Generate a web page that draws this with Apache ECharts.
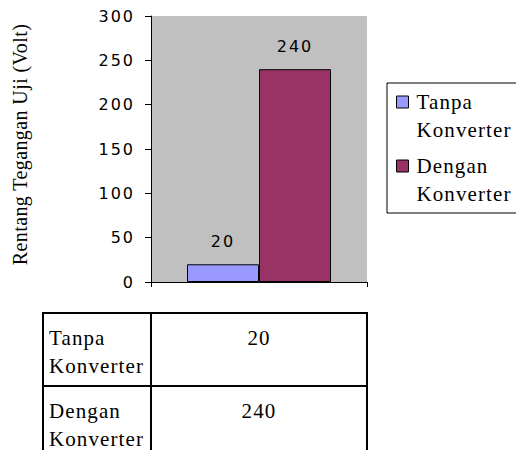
<!DOCTYPE html>
<html><head><meta charset="utf-8">
<script src="https://cdn.jsdelivr.net/npm/echarts@6/dist/echarts.min.js"></script>
<style>
html,body{margin:0;padding:0;background:#fff;}
#chart{width:516px;height:450px;}
#chart text[style*="Serif"][style*="21px"]{letter-spacing:1.1px;}
#chart text[style*="Serif"][style*="20px"]{letter-spacing:0.4px;}
#chart text[style*="DejaVu Sans"]{letter-spacing:2px;}
</style></head>
<body><div id="chart"></div>
<script>
const categories = ['Tanpa Konverter', 'Dengan Konverter'];
const values = [20, 240];
const colors = ['#9999ff', '#993366'];
const yTicks = [0, 50, 100, 150, 200, 250, 300];
const yAxisTitle = 'Rentang Tegangan Uji (Volt)';

const SERIF = "'Liberation Serif', 'Times New Roman', Times, serif";
const SANS = "'DejaVu Sans', sans-serif";
const twoLines = s => s.replace(' ', '\n');
const tableRows = categories.map((c, i) => [i, values[i]]);

const chart = echarts.init(document.getElementById('chart'), null, {renderer: 'svg', width: 516, height: 450});

const barSeries = categories.map((name, i) => ({
  name: name,
  type: 'bar',
  xAxisIndex: 0,
  yAxisIndex: 0,
  data: [values[i]],
  barWidth: 72,
  barGap: '0%',
  itemStyle: {color: colors[i], borderColor: '#000', borderWidth: 1},
  label: {show: true, position: 'top', distance: 15, fontFamily: SANS, fontSize: 16, color: '#000'}
}));

function cellText(text, x, y, align) {
  return {type: 'text', style: {text: text, x: x, y: y, fontFamily: SERIF, fontSize: 21, lineHeight: 21,
    fill: '#000', align: align, verticalAlign: 'middle'}};
}

const tableSeries = {
  type: 'custom',
  xAxisIndex: 1,
  yAxisIndex: 1,
  silent: true,
  clip: false,
  data: tableRows,
  renderItem: function (params, api) {
    const r = api.value(0);
    const v = api.value(1);
    const tl = api.coord([0, r]);
    const mid = api.coord([1, r + 1]);
    const br = api.coord([3, r + 1]);
    const h = br[1] - tl[1];
    const lines = twoLines(categories[params.dataIndex]).split('\n');
    const children = [
      {type: 'rect', shape: {x: tl[0], y: tl[1], width: mid[0] - tl[0], height: h},
        style: {fill: '#fff', stroke: '#000', lineWidth: 2}},
      {type: 'rect', shape: {x: mid[0], y: tl[1], width: br[0] - mid[0], height: h},
        style: {fill: '#fff', stroke: '#000', lineWidth: 2}}
    ];
    lines.forEach((ln, k) => children.push(cellText(ln, tl[0] + 6, tl[1] + 24.5 + 28.5 * k, 'left')));
    children.push(cellText(String(v), (mid[0] + br[0]) / 2, tl[1] + 24.5, 'center'));
    return {type: 'group', children: children};
  }
};

chart.setOption({
  animation: false,
  backgroundColor: '#fff',
  grid: [
    {left: 151, top: 16, width: 216, height: 266, show: true, backgroundColor: '#c0c0c0', borderWidth: 0, outerBoundsMode: 'none'},
    {left: 43, top: 313, width: 324, height: 146, show: false, outerBoundsMode: 'none'}
  ],
  legend: {
    data: categories,
    orient: 'vertical',
    left: 387,
    top: 83,
    padding: [5, 15, 5, 9],
    itemGap: 8,
    itemWidth: 12,
    itemHeight: 40,
    icon: 'path://M0,0L12,0L12,12L0,12Z M0,40',
    itemStyle: {borderColor: '#000', borderWidth: 1},
    backgroundColor: '#fff',
    borderColor: '#000',
    borderWidth: 1,
    borderRadius: 0,
    formatter: twoLines,
    textStyle: {fontFamily: SERIF, fontSize: 21, lineHeight: 28, color: '#000', padding: [0, 0, 0, 3]}
  },
  xAxis: [
    {type: 'category', gridIndex: 0, data: [''],
      axisLine: {show: true, lineStyle: {color: '#000', width: 1}},
      axisTick: {show: true, length: 5, lineStyle: {color: '#000'}},
      axisLabel: {show: false}, splitLine: {show: false}},
    {type: 'value', gridIndex: 1, min: 0, max: 3, show: false}
  ],
  yAxis: [
    {type: 'value', gridIndex: 0, min: 0, max: 300, interval: 50,
      name: yAxisTitle, nameLocation: 'middle', nameGap: 121, nameRotate: 90,
      nameTextStyle: {fontFamily: SERIF, fontSize: 20, color: '#000', padding: [0, 0, 0, 9]},
      axisLine: {show: true, lineStyle: {color: '#000', width: 1}},
      axisTick: {show: true, length: 6, lineStyle: {color: '#000'}},
      axisLabel: {fontFamily: SANS, fontSize: 16, color: '#000', margin: 16,
        formatter: v => yTicks.includes(v) ? String(v) : ''},
      splitLine: {show: false}},
    {type: 'value', gridIndex: 1, min: 0, max: 2, inverse: true, show: false}
  ],
  series: barSeries.concat([tableSeries])
});
</script>
</body></html>
